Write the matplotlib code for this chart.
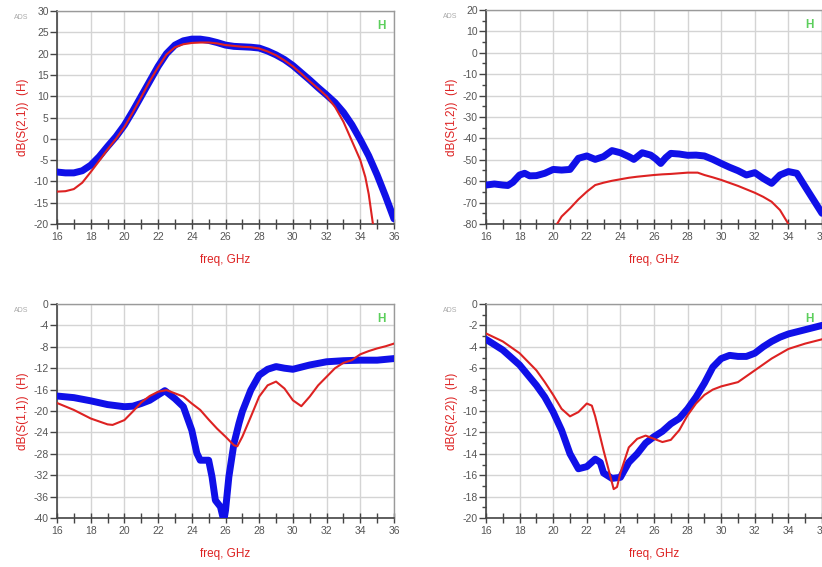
#!/usr/bin/env python3

from matplotlib import pyplot as plt
from matplotlib import ticker

plt.rcParams['font.family'] = ['Liberation Sans', 'DejaVu Sans']
plt.rcParams['axes.unicode_minus'] = False

# S(2,1)
s21_freq = [16, 16.5, 17, 17.5, 18, 18.5, 19, 19.5, 20, 20.5, 21, 21.5, 22, 22.5, 23, 23.5,
            24, 24.5, 25, 25.5, 26, 26.5, 27, 27.5, 28, 28.5, 29, 29.5, 30, 30.5, 31, 31.5,
            32, 32.5, 33, 33.5, 34, 34.5, 35, 35.5, 36]
s21_meas = [-7.8, -8.0, -8.0, -7.5, -6.2, -4.2, -1.8, 0.5, 3.2, 6.5, 10.0, 13.5, 17.0, 20.0, 22.0, 23.0,
            23.4, 23.4, 23.1, 22.6, 22.0, 21.7, 21.6, 21.5, 21.3, 20.6, 19.7, 18.6, 17.2, 15.5, 13.8, 12.0,
            10.3, 8.5, 6.2, 3.3, -0.2, -4.0, -8.5, -13.5, -18.8]
s21_sim_freq = [16, 16.5, 17, 17.5, 18, 18.5, 19, 19.5, 20, 20.5, 21, 21.5, 22, 22.5, 23, 23.5,
                24, 24.5, 25, 25.5, 26, 26.5, 27, 27.5, 28, 28.5, 29, 29.5, 30, 30.5, 31, 31.5,
                32, 32.5, 33, 33.5, 34, 34.3, 34.5, 34.75, 35]
s21_sim = [-12.4, -12.3, -11.8, -10.3, -7.8, -5.2, -2.5, 0.0, 2.8, 6.2, 9.8, 13.5, 16.8, 19.8, 21.5, 22.2,
           22.5, 22.6, 22.6, 22.4, 22.0, 21.8, 21.6, 21.5, 21.2, 20.5, 19.6, 18.4, 17.0, 15.3, 13.5, 11.8,
           10.0, 7.5, 4.0, -0.5, -5.0, -9.0, -13.0, -20.0, -26.0]

# S(1,2)
s12_freq = [16, 16.5, 17, 17.3, 17.6, 18, 18.3, 18.6, 19, 19.5, 20, 20.5, 21, 21.5, 22, 22.5, 23, 23.5,
            24, 24.5, 24.8, 25.3, 25.8, 26.1, 26.4, 26.7, 27, 27.5, 28, 28.5, 29, 29.5, 30, 30.5, 31,
            31.5, 32, 32.5, 33, 33.5, 34, 34.5, 35, 35.5, 36]
s12_meas = [-61.8, -61.3, -61.8, -62.0, -60.5, -57.1, -56.3, -57.5, -57.4, -56.3, -54.5, -54.8, -54.5,
            -49.3, -48.2, -49.8, -48.5, -45.7, -46.7, -48.5, -49.8, -46.7, -47.8, -49.5, -51.7, -49.0,
            -47.0, -47.3, -47.9, -47.8, -48.2, -49.8, -51.7, -53.5, -55.1, -57.1, -56.0, -58.7, -61.0,
            -57.1, -55.5, -56.3, -62.6, -68.8, -75.0]
s12_sim_freq = [20, 20.5, 21, 21.5, 22, 22.5, 23, 23.5, 24, 24.5, 25, 25.5, 26, 26.5, 27, 27.5, 28,
                28.6, 29, 29.5, 30, 30.5, 31, 31.5, 32, 32.5, 33, 33.5, 34, 34.3]
s12_sim = [-83.0, -76.5, -72.7, -68.5, -64.9, -61.8, -60.7, -59.8, -59.1, -58.4, -57.9, -57.5, -57.1,
           -56.8, -56.6, -56.3, -56.0, -56.0, -57.1, -58.2, -59.4, -60.8, -62.2, -63.8, -65.4, -67.3,
           -69.6, -73.5, -80.0, -84.0]

# S(1,1)
s11_freq = [16, 17, 18, 19, 20, 20.5, 21, 21.5, 22, 22.4, 23, 23.5, 24, 24.3, 24.5, 25, 25.2, 25.4,
            25.7, 25.9, 26.0, 26.2, 26.5, 26.8, 27, 27.5, 28, 28.5, 29, 29.5, 30, 30.5, 31, 32, 33,
            34, 35, 36]
s11_meas = [-17.2, -17.5, -18.1, -18.8, -19.2, -19.1, -18.6, -18.0, -17.0, -16.2, -17.7, -19.2, -23.6,
            -27.9, -29.2, -29.2, -32.3, -36.7, -37.9, -40.5, -38.6, -32.3, -26.1, -22.3, -20.1, -16.1,
            -13.3, -12.2, -11.7, -12.0, -12.2, -11.8, -11.4, -10.8, -10.6, -10.5, -10.5, -10.2]
s11_sim_freq = [16, 17, 18, 19, 19.3, 20, 20.5, 21, 21.5, 22, 22.5, 23, 23.5, 24, 24.5, 25, 25.5, 26,
                26.5, 26.7, 27, 27.5, 28, 28.5, 29, 29.5, 30, 30.5, 31, 31.5, 32, 32.5, 33, 33.5, 34,
                34.5, 35, 35.5, 36]
s11_sim = [-18.5, -19.8, -21.4, -22.5, -22.6, -21.7, -20.1, -18.4, -17.2, -16.4, -16.1, -16.7, -17.3,
           -18.6, -19.8, -21.6, -23.3, -24.8, -26.4, -26.6, -24.8, -21.1, -17.3, -15.2, -14.5, -15.8,
           -18.0, -19.1, -17.3, -15.2, -13.6, -12.0, -11.0, -10.5, -9.4, -8.8, -8.3, -7.9, -7.4]

# S(2,2)
s22_freq = [16, 17, 18, 19, 19.5, 20, 20.5, 21, 21.5, 22, 22.5, 22.8, 23, 23.5, 24, 24.5, 25, 25.5,
            26, 26.5, 27, 27.5, 28, 28.5, 29, 29.5, 30, 30.5, 31, 31.5, 32, 32.5, 33, 33.5, 34, 34.5,
            35, 35.5, 36]
s22_meas = [-3.3, -4.3, -5.7, -7.6, -8.7, -10.1, -11.8, -14.0, -15.4, -15.2, -14.5, -14.8, -15.8, -16.3,
            -16.2, -14.8, -14.0, -13.0, -12.4, -11.9, -11.2, -10.7, -9.8, -8.7, -7.4, -5.9, -5.1, -4.8,
            -4.9, -4.9, -4.6, -4.0, -3.5, -3.1, -2.8, -2.6, -2.4, -2.2, -2.0]
s22_sim_freq = [16, 17, 18, 19, 19.5, 20, 20.5, 21, 21.5, 22, 22.3, 22.5, 23, 23.3, 23.6, 23.8, 24,
                24.5, 25, 25.5, 26, 26.5, 27, 27.5, 28, 28.5, 29, 29.5, 30, 31, 32, 33, 34, 35, 36]
s22_sim = [-2.75, -3.5, -4.6, -6.2, -7.3, -8.5, -9.8, -10.5, -10.1, -9.3, -9.5, -10.5, -13.7, -15.5,
           -17.3, -17.1, -15.8, -13.4, -12.6, -12.3, -12.6, -12.9, -12.7, -11.8, -10.4, -9.3, -8.5,
           -8.0, -7.7, -7.3, -6.2, -5.1, -4.2, -3.7, -3.3]

panels = [
    # position, ylabel, ylim, major, minor, meas, sim
    ([57 / 822, 343 / 567, 337 / 822, 213 / 567], 'dB(S(2,1))  (H)', (-20, 30), 5, None,
     (s21_freq, s21_meas), (s21_sim_freq, s21_sim)),
    ([486 / 822, 343 / 567, 336 / 822, 214 / 567], 'dB(S(1,2))  (H)', (-80, 20), 10, 5,
     (s12_freq, s12_meas), (s12_sim_freq, s12_sim)),
    ([57 / 822, 49 / 567, 337 / 822, 214 / 567], 'dB(S(1,1))  (H)', (-40, 0), 4, None,
     (s11_freq, s11_meas), (s11_sim_freq, s11_sim)),
    ([486 / 822, 49 / 567, 336 / 822, 214 / 567], 'dB(S(2,2))  (H)', (-20, 0), 2, 1,
     (s22_freq, s22_meas), (s22_sim_freq, s22_sim)),
]

red = '#dd2222'
blue = '#1010e8'
grid_c = '#d4d4d4'
text_c = '#555555'

fig = plt.figure(figsize=(8.22, 5.67), dpi=100)

for pos, ylabel, ylim, major, minor, meas, sim in panels:
    ax = fig.add_axes(pos)
    ax.plot(meas[0], meas[1], color=blue, lw=5, solid_capstyle='round',
            solid_joinstyle='round', zorder=3)
    ax.plot(sim[0], sim[1], color=red, lw=1.5, solid_joinstyle='round', zorder=4)
    ax.set_xlim(16, 36)
    ax.set_ylim(*ylim)

    ax.xaxis.set_major_locator(ticker.MultipleLocator(2))
    ax.xaxis.set_minor_locator(ticker.MultipleLocator(1))
    ax.yaxis.set_major_locator(ticker.MultipleLocator(major))
    if minor:
        ax.yaxis.set_minor_locator(ticker.MultipleLocator(minor))
    else:
        ax.yaxis.set_minor_locator(ticker.NullLocator())

    ax.grid(True, which='major', color=grid_c, lw=1)
    ax.set_axisbelow(True)
    ax.tick_params(axis='x', which='both', direction='inout', length=7, width=1,
                   color='#444444', labelsize=7.5, labelcolor=text_c, pad=2)
    ax.tick_params(axis='y', which='both', direction='out', length=5, width=1,
                   color='#444444', labelsize=7.5, labelcolor=text_c, pad=1)
    ax.tick_params(axis='y', which='minor', length=3)

    for side in ['left', 'bottom']:
        ax.spines[side].set_color('#444444')
        ax.spines[side].set_linewidth(1.2)
    for side in ['top', 'right']:
        ax.spines[side].set_color('#9a9a9a')
        ax.spines[side].set_linewidth(1)

    ax.set_xlabel('freq, GHz', color=red, fontsize=8.5, labelpad=9)
    ax.set_ylabel(ylabel, color=red, fontsize=8.5, labelpad=3)

    ax.text(0.975, 0.93, 'H', transform=ax.transAxes, color='#5ccf5c',
            fontsize=8.5, fontweight='bold', ha='right', va='center')
    ax.text(-0.105, 0.97, 'ADS', transform=ax.transAxes, color='#aaaaaa',
            fontsize=5, ha='center', va='center')

plt.savefig('out.png', dpi=100)
plt.close()
